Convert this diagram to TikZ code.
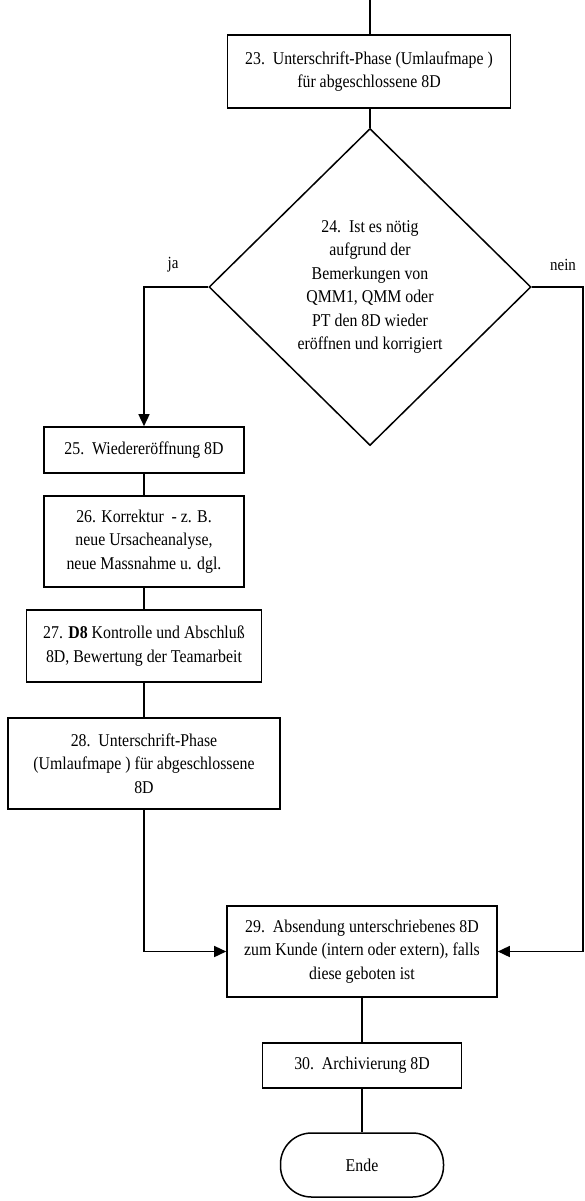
\documentclass[tikz,border=0pt]{standalone}
\usepackage{fontspec}
\setmainfont{Liberation Serif}[FakeStretch=0.88]
\usetikzlibrary{arrows.meta,shapes.geometric}
\begin{document}
\begin{tikzpicture}[x=1pt,y=-1pt,
  every node/.style={font=\fontsize{18}{23.4}\selectfont, inner sep=0pt, align=center},
  stepbox/.style={draw, line width=1.6pt, rectangle},
  decision/.style={draw, line width=1.5pt, diamond},
  terminal/.style={draw, line width=1.5pt, rectangle, rounded corners=31pt},
  conn/.style={line width=1.5pt},
  arr/.style={conn, -{Triangle[length=12pt,width=11pt]}},
  lbl/.style={font=\fontsize{17}{20}\selectfont}
]
\useasboundingbox (0,0) rectangle (585,1201);

\coordinate (top) at (370,0);
\node[stepbox, minimum width=283pt, minimum height=73pt] (n23) at (369,71.5)
  {23.\ \ Unterschrift-Phase (Umlaufmape )\\für abgeschlossene 8D};
\node[decision, minimum width=322pt, minimum height=317pt] (d24) at (370,287)
  {24.\ \ Ist es nötig\\aufgrund der\\Bemerkungen von\\QMM1, QMM oder\\PT den 8D wieder\\eröffnen und korrigiert};
\node[lbl] (ja) at (173,265) {ja};
\node[lbl] (nein) at (563,265) {nein};

\node[stepbox, minimum width=200pt, minimum height=46pt] (n25) at (144,450)
  {25.\ \ Wiedereröffnung 8D};
\node[stepbox, minimum width=200pt, minimum height=91pt] (n26) at (144,541.5)
  {26. Korrektur\ \ - z. B.\\neue Ursacheanalyse,\\neue Massnahme u. dgl.};
\node[stepbox, minimum width=235pt, minimum height=72pt] (n27) at (144,646)
  {27. \textbf{D8} Kontrolle und Abschluß\\8D, Bewertung der Teamarbeit};
\node[stepbox, minimum width=272pt, minimum height=91pt] (n28) at (144,763.5)
  {28.\ \ Unterschrift-Phase\\(Umlaufmape ) für abgeschlossene\\8D};

\node[stepbox, minimum width=270pt, minimum height=91pt] (n29) at (362,951.5)
  {29.\ \ Absendung unterschriebenes 8D\\zum Kunde (intern oder extern), falls\\diese geboten ist};
\node[stepbox, minimum width=199pt, minimum height=45pt] (n30) at (362,1065.5)
  {30.\ \ Archivierung 8D};
\node[terminal, minimum width=163pt, minimum height=64pt] (ende) at (362,1165)
  {Ende};

\coordinate (rc) at (583,287);

\draw[conn] (top) -- (top |- n23.north);
\draw[conn] (n23.south -| d24.north) -- (d24.north);
\draw[arr] (d24.west) -| (n25.north);
\draw[conn] (n25.south) -- (n26.north);
\draw[conn] (n26.south) -- (n27.north);
\draw[conn] (n27.south) -- (n28.north);
\draw[arr] (n28.south) |- (n29.west);
\draw[arr] (d24.east) -- (rc) |- (n29.east);
\draw[conn] (n29.south) -- (n30.north);
\draw[conn] (n30.south) -- (ende.north);
\end{tikzpicture}
\end{document}
